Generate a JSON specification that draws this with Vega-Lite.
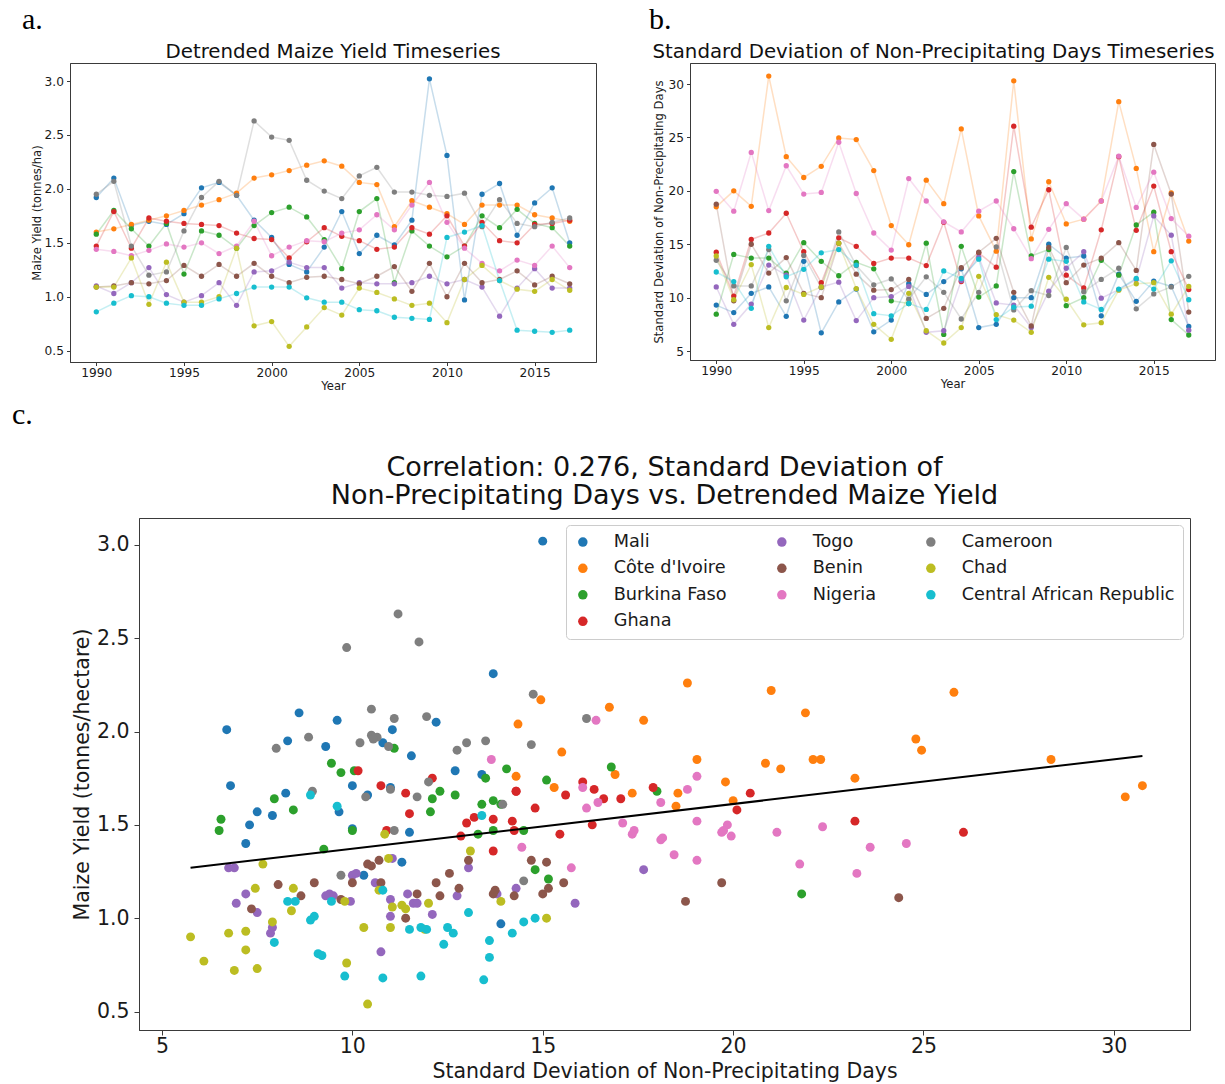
{
"$schema": "https://vega.github.io/schema/vega-lite/v6.json",
"padding": {"left": 12, "top": 4, "right": 5, "bottom": 0},
"background": "white",
"config": {
  "font": "DejaVu Sans",
  "view": {"stroke": "#3a3a3a", "strokeWidth": 1},
  "axis": {"grid": false, "domainColor": "#3a3a3a", "tickColor": "#3a3a3a", "labelColor": "#1a1a1a", "titleColor": "#1a1a1a", "titleFontWeight": "normal", "tickSize": 3.5, "labelPadding": 3},
  "title": {"fontWeight": "normal", "color": "#111"}
},
"datasets": {"d": [
{"country":"Mali","year":1990,"yield":1.92,"sd":9.3},
{"country":"Mali","year":1991,"yield":2.10,"sd":8.6},
{"country":"Mali","year":1992,"yield":1.66,"sd":10.4},
{"country":"Mali","year":1993,"yield":1.70,"sd":11.0},
{"country":"Mali","year":1994,"yield":1.67,"sd":8.25},
{"country":"Mali","year":1995,"yield":1.77,"sd":13.4},
{"country":"Mali","year":1996,"yield":2.01,"sd":6.7},
{"country":"Mali","year":1997,"yield":2.06,"sd":9.6},
{"country":"Mali","year":1998,"yield":1.94,"sd":10.8},
{"country":"Mali","year":1999,"yield":1.71,"sd":6.8},
{"country":"Mali","year":2000,"yield":1.55,"sd":7.9},
{"country":"Mali","year":2001,"yield":1.30,"sd":11.3},
{"country":"Mali","year":2002,"yield":1.23,"sd":10.3},
{"country":"Mali","year":2003,"yield":1.46,"sd":11.5},
{"country":"Mali","year":2004,"yield":1.79,"sd":12.7},
{"country":"Mali","year":2005,"yield":1.40,"sd":7.2},
{"country":"Mali","year":2006,"yield":1.57,"sd":7.5},
{"country":"Mali","year":2007,"yield":1.48,"sd":10.0},
{"country":"Mali","year":2008,"yield":1.71,"sd":10.0},
{"country":"Mali","year":2009,"yield":3.02,"sd":15.0},
{"country":"Mali","year":2010,"yield":2.31,"sd":13.7},
{"country":"Mali","year":2011,"yield":0.97,"sd":13.9},
{"country":"Mali","year":2012,"yield":1.95,"sd":8.3},
{"country":"Mali","year":2013,"yield":2.05,"sd":12.2},
{"country":"Mali","year":2014,"yield":1.57,"sd":9.65},
{"country":"Mali","year":2015,"yield":1.87,"sd":11.55},
{"country":"Mali","year":2016,"yield":2.01,"sd":11.05},
{"country":"Mali","year":2017,"yield":1.50,"sd":7.3},
{"country":"Côte d'Ivoire","year":1990,"yield":1.60,"sd":18.5},
{"country":"Côte d'Ivoire","year":1991,"yield":1.63,"sd":20.0},
{"country":"Côte d'Ivoire","year":1992,"yield":1.67,"sd":18.55},
{"country":"Côte d'Ivoire","year":1993,"yield":1.71,"sd":30.75},
{"country":"Côte d'Ivoire","year":1994,"yield":1.75,"sd":23.2},
{"country":"Côte d'Ivoire","year":1995,"yield":1.80,"sd":21.25},
{"country":"Côte d'Ivoire","year":1996,"yield":1.85,"sd":22.3},
{"country":"Côte d'Ivoire","year":1997,"yield":1.90,"sd":24.95},
{"country":"Côte d'Ivoire","year":1998,"yield":1.96,"sd":24.8},
{"country":"Côte d'Ivoire","year":1999,"yield":2.10,"sd":21.9},
{"country":"Côte d'Ivoire","year":2000,"yield":2.13,"sd":16.75},
{"country":"Côte d'Ivoire","year":2001,"yield":2.17,"sd":14.95},
{"country":"Côte d'Ivoire","year":2002,"yield":2.22,"sd":21.0},
{"country":"Côte d'Ivoire","year":2003,"yield":2.26,"sd":18.8},
{"country":"Côte d'Ivoire","year":2004,"yield":2.21,"sd":25.8},
{"country":"Côte d'Ivoire","year":2005,"yield":2.06,"sd":17.65},
{"country":"Côte d'Ivoire","year":2006,"yield":2.04,"sd":14.35},
{"country":"Côte d'Ivoire","year":2007,"yield":1.65,"sd":30.3},
{"country":"Côte d'Ivoire","year":2008,"yield":1.89,"sd":15.5},
{"country":"Côte d'Ivoire","year":2009,"yield":1.83,"sd":20.85},
{"country":"Côte d'Ivoire","year":2010,"yield":1.77,"sd":16.9},
{"country":"Côte d'Ivoire","year":2011,"yield":1.67,"sd":17.35},
{"country":"Côte d'Ivoire","year":2012,"yield":1.85,"sd":19.05},
{"country":"Côte d'Ivoire","year":2013,"yield":1.85,"sd":28.35},
{"country":"Côte d'Ivoire","year":2014,"yield":1.85,"sd":22.1},
{"country":"Côte d'Ivoire","year":2015,"yield":1.76,"sd":14.3},
{"country":"Côte d'Ivoire","year":2016,"yield":1.73,"sd":19.8},
{"country":"Côte d'Ivoire","year":2017,"yield":1.70,"sd":15.3},
{"country":"Burkina Faso","year":1990,"yield":1.58,"sd":8.45},
{"country":"Burkina Faso","year":1991,"yield":1.80,"sd":14.05},
{"country":"Burkina Faso","year":1992,"yield":1.63,"sd":13.7},
{"country":"Burkina Faso","year":1993,"yield":1.47,"sd":13.7},
{"country":"Burkina Faso","year":1994,"yield":1.68,"sd":12.3},
{"country":"Burkina Faso","year":1995,"yield":1.21,"sd":15.15},
{"country":"Burkina Faso","year":1996,"yield":1.61,"sd":13.4},
{"country":"Burkina Faso","year":1997,"yield":1.57,"sd":12.05},
{"country":"Burkina Faso","year":1998,"yield":1.45,"sd":13.3},
{"country":"Burkina Faso","year":1999,"yield":1.66,"sd":12.7},
{"country":"Burkina Faso","year":2000,"yield":1.78,"sd":9.7},
{"country":"Burkina Faso","year":2001,"yield":1.83,"sd":9.45},
{"country":"Burkina Faso","year":2002,"yield":1.74,"sd":15.1},
{"country":"Burkina Faso","year":2003,"yield":1.53,"sd":6.55},
{"country":"Burkina Faso","year":2004,"yield":1.26,"sd":14.8},
{"country":"Burkina Faso","year":2005,"yield":1.79,"sd":10.05},
{"country":"Burkina Faso","year":2006,"yield":1.91,"sd":11.1},
{"country":"Burkina Faso","year":2007,"yield":1.13,"sd":21.8},
{"country":"Burkina Faso","year":2008,"yield":1.61,"sd":13.9},
{"country":"Burkina Faso","year":2009,"yield":1.47,"sd":14.5},
{"country":"Burkina Faso","year":2010,"yield":1.37,"sd":9.25},
{"country":"Burkina Faso","year":2011,"yield":1.47,"sd":10.0},
{"country":"Burkina Faso","year":2012,"yield":1.75,"sd":13.5},
{"country":"Burkina Faso","year":2013,"yield":1.64,"sd":12.1},
{"country":"Burkina Faso","year":2014,"yield":1.81,"sd":16.8},
{"country":"Burkina Faso","year":2015,"yield":1.68,"sd":18.0},
{"country":"Burkina Faso","year":2016,"yield":1.64,"sd":7.95},
{"country":"Burkina Faso","year":2017,"yield":1.47,"sd":6.5},
{"country":"Ghana","year":1990,"yield":1.47,"sd":14.25},
{"country":"Ghana","year":1991,"yield":1.79,"sd":10.15},
{"country":"Ghana","year":1992,"yield":1.45,"sd":15.45},
{"country":"Ghana","year":1993,"yield":1.73,"sd":16.05},
{"country":"Ghana","year":1994,"yield":1.70,"sd":17.9},
{"country":"Ghana","year":1995,"yield":1.68,"sd":14.3},
{"country":"Ghana","year":1996,"yield":1.67,"sd":11.4},
{"country":"Ghana","year":1997,"yield":1.66,"sd":15.6},
{"country":"Ghana","year":1998,"yield":1.59,"sd":14.8},
{"country":"Ghana","year":1999,"yield":1.54,"sd":13.2},
{"country":"Ghana","year":2000,"yield":1.53,"sd":13.7},
{"country":"Ghana","year":2001,"yield":1.36,"sd":13.7},
{"country":"Ghana","year":2002,"yield":1.51,"sd":13.0},
{"country":"Ghana","year":2003,"yield":1.64,"sd":17.05},
{"country":"Ghana","year":2004,"yield":1.56,"sd":11.5},
{"country":"Ghana","year":2005,"yield":1.52,"sd":14.2},
{"country":"Ghana","year":2006,"yield":1.44,"sd":12.85},
{"country":"Ghana","year":2007,"yield":1.46,"sd":26.05},
{"country":"Ghana","year":2008,"yield":1.64,"sd":16.6},
{"country":"Ghana","year":2009,"yield":1.58,"sd":20.1},
{"country":"Ghana","year":2010,"yield":1.75,"sd":12.1},
{"country":"Ghana","year":2011,"yield":1.47,"sd":10.9},
{"country":"Ghana","year":2012,"yield":1.69,"sd":16.35},
{"country":"Ghana","year":2013,"yield":1.52,"sd":23.2},
{"country":"Ghana","year":2014,"yield":1.50,"sd":16.3},
{"country":"Ghana","year":2015,"yield":1.67,"sd":20.45},
{"country":"Ghana","year":2016,"yield":1.68,"sd":14.3},
{"country":"Ghana","year":2017,"yield":1.71,"sd":10.75},
{"country":"Togo","year":1990,"yield":1.10,"sd":11.0},
{"country":"Togo","year":1991,"yield":1.03,"sd":7.5},
{"country":"Togo","year":1992,"yield":1.13,"sd":9.4},
{"country":"Togo","year":1993,"yield":1.27,"sd":13.05},
{"country":"Togo","year":1994,"yield":1.02,"sd":12.1},
{"country":"Togo","year":1995,"yield":0.95,"sd":7.9},
{"country":"Togo","year":1996,"yield":1.01,"sd":11.0},
{"country":"Togo","year":1997,"yield":1.13,"sd":11.45},
{"country":"Togo","year":1998,"yield":0.92,"sd":7.85},
{"country":"Togo","year":1999,"yield":1.23,"sd":10.0},
{"country":"Togo","year":2000,"yield":1.24,"sd":10.1},
{"country":"Togo","year":2001,"yield":1.32,"sd":11.05},
{"country":"Togo","year":2002,"yield":1.27,"sd":6.75},
{"country":"Togo","year":2003,"yield":1.27,"sd":6.9},
{"country":"Togo","year":2004,"yield":1.08,"sd":11.6},
{"country":"Togo","year":2005,"yield":1.13,"sd":13.8},
{"country":"Togo","year":2006,"yield":1.12,"sd":9.5},
{"country":"Togo","year":2007,"yield":1.12,"sd":9.3},
{"country":"Togo","year":2008,"yield":1.13,"sd":7.2},
{"country":"Togo","year":2009,"yield":1.19,"sd":10.6},
{"country":"Togo","year":2010,"yield":1.12,"sd":12.75},
{"country":"Togo","year":2011,"yield":1.16,"sd":14.3},
{"country":"Togo","year":2012,"yield":1.09,"sd":9.95},
{"country":"Togo","year":2013,"yield":0.82,"sd":10.75},
{"country":"Togo","year":2014,"yield":1.08,"sd":11.7},
{"country":"Togo","year":2015,"yield":1.26,"sd":17.65},
{"country":"Togo","year":2016,"yield":1.08,"sd":15.85},
{"country":"Togo","year":2017,"yield":1.08,"sd":6.95},
{"country":"Benin","year":1990,"yield":1.09,"sd":18.75},
{"country":"Benin","year":1991,"yield":1.10,"sd":9.7},
{"country":"Benin","year":1992,"yield":1.13,"sd":15.0},
{"country":"Benin","year":1993,"yield":1.12,"sd":12.3},
{"country":"Benin","year":1994,"yield":1.15,"sd":13.75},
{"country":"Benin","year":1995,"yield":1.29,"sd":10.4},
{"country":"Benin","year":1996,"yield":1.19,"sd":10.0},
{"country":"Benin","year":1997,"yield":1.30,"sd":15.1},
{"country":"Benin","year":1998,"yield":1.19,"sd":12.2},
{"country":"Benin","year":1999,"yield":1.31,"sd":10.7},
{"country":"Benin","year":2000,"yield":1.19,"sd":10.75},
{"country":"Benin","year":2001,"yield":1.13,"sd":11.7},
{"country":"Benin","year":2002,"yield":1.18,"sd":8.05},
{"country":"Benin","year":2003,"yield":1.19,"sd":9.0},
{"country":"Benin","year":2004,"yield":1.16,"sd":12.8},
{"country":"Benin","year":2005,"yield":1.12,"sd":14.25},
{"country":"Benin","year":2006,"yield":1.19,"sd":15.55},
{"country":"Benin","year":2007,"yield":1.28,"sd":10.5},
{"country":"Benin","year":2008,"yield":1.05,"sd":7.35},
{"country":"Benin","year":2009,"yield":1.31,"sd":14.7},
{"country":"Benin","year":2010,"yield":1.00,"sd":11.4},
{"country":"Benin","year":2011,"yield":1.31,"sd":13.05},
{"country":"Benin","year":2012,"yield":1.13,"sd":13.7},
{"country":"Benin","year":2013,"yield":1.16,"sd":15.15},
{"country":"Benin","year":2014,"yield":1.24,"sd":12.55},
{"country":"Benin","year":2015,"yield":1.11,"sd":24.35},
{"country":"Benin","year":2016,"yield":1.19,"sd":19.7},
{"country":"Benin","year":2017,"yield":1.12,"sd":8.65},
{"country":"Nigeria","year":1990,"yield":1.44,"sd":19.95},
{"country":"Nigeria","year":1991,"yield":1.42,"sd":18.1},
{"country":"Nigeria","year":1992,"yield":1.38,"sd":23.6},
{"country":"Nigeria","year":1993,"yield":1.43,"sd":18.15},
{"country":"Nigeria","year":1994,"yield":1.49,"sd":22.35},
{"country":"Nigeria","year":1995,"yield":1.46,"sd":19.7},
{"country":"Nigeria","year":1996,"yield":1.50,"sd":19.85},
{"country":"Nigeria","year":1997,"yield":1.40,"sd":24.55},
{"country":"Nigeria","year":1998,"yield":1.47,"sd":19.75},
{"country":"Nigeria","year":1999,"yield":1.70,"sd":16.05},
{"country":"Nigeria","year":2000,"yield":1.38,"sd":14.45},
{"country":"Nigeria","year":2001,"yield":1.46,"sd":21.15},
{"country":"Nigeria","year":2002,"yield":1.52,"sd":19.05},
{"country":"Nigeria","year":2003,"yield":1.51,"sd":17.1},
{"country":"Nigeria","year":2004,"yield":1.59,"sd":16.15},
{"country":"Nigeria","year":2005,"yield":1.62,"sd":18.1},
{"country":"Nigeria","year":2006,"yield":1.76,"sd":19.05},
{"country":"Nigeria","year":2007,"yield":1.62,"sd":16.45},
{"country":"Nigeria","year":2008,"yield":1.85,"sd":13.65},
{"country":"Nigeria","year":2009,"yield":2.06,"sd":16.4},
{"country":"Nigeria","year":2010,"yield":1.69,"sd":18.8},
{"country":"Nigeria","year":2011,"yield":1.45,"sd":17.35},
{"country":"Nigeria","year":2012,"yield":1.31,"sd":19.05},
{"country":"Nigeria","year":2013,"yield":1.24,"sd":23.25},
{"country":"Nigeria","year":2014,"yield":1.34,"sd":18.45},
{"country":"Nigeria","year":2015,"yield":1.29,"sd":21.75},
{"country":"Nigeria","year":2016,"yield":1.47,"sd":17.4},
{"country":"Nigeria","year":2017,"yield":1.27,"sd":15.75},
{"country":"Cameroon","year":1990,"yield":1.95,"sd":13.5},
{"country":"Cameroon","year":1991,"yield":2.07,"sd":11.1},
{"country":"Cameroon","year":1992,"yield":1.47,"sd":11.1},
{"country":"Cameroon","year":1993,"yield":1.20,"sd":14.5},
{"country":"Cameroon","year":1994,"yield":1.23,"sd":9.7},
{"country":"Cameroon","year":1995,"yield":1.61,"sd":13.95},
{"country":"Cameroon","year":1996,"yield":1.92,"sd":10.95},
{"country":"Cameroon","year":1997,"yield":2.07,"sd":16.15},
{"country":"Cameroon","year":1998,"yield":1.94,"sd":13.0},
{"country":"Cameroon","year":1999,"yield":2.63,"sd":11.2},
{"country":"Cameroon","year":2000,"yield":2.48,"sd":11.75},
{"country":"Cameroon","year":2001,"yield":2.45,"sd":9.85},
{"country":"Cameroon","year":2002,"yield":2.08,"sd":11.95},
{"country":"Cameroon","year":2003,"yield":1.98,"sd":10.5},
{"country":"Cameroon","year":2004,"yield":1.91,"sd":8.0},
{"country":"Cameroon","year":2005,"yield":2.12,"sd":10.5},
{"country":"Cameroon","year":2006,"yield":2.20,"sd":14.75},
{"country":"Cameroon","year":2007,"yield":1.97,"sd":8.85},
{"country":"Cameroon","year":2008,"yield":1.97,"sd":10.65},
{"country":"Cameroon","year":2009,"yield":1.94,"sd":10.2},
{"country":"Cameroon","year":2010,"yield":1.93,"sd":14.7},
{"country":"Cameroon","year":2011,"yield":1.96,"sd":10.55},
{"country":"Cameroon","year":2012,"yield":1.65,"sd":11.7},
{"country":"Cameroon","year":2013,"yield":1.90,"sd":12.75},
{"country":"Cameroon","year":2014,"yield":1.68,"sd":8.95},
{"country":"Cameroon","year":2015,"yield":1.65,"sd":10.35},
{"country":"Cameroon","year":2016,"yield":1.69,"sd":11.0},
{"country":"Cameroon","year":2017,"yield":1.73,"sd":12.0},
{"country":"Chad","year":1990,"yield":1.09,"sd":13.9},
{"country":"Chad","year":1991,"yield":1.09,"sd":9.8},
{"country":"Chad","year":1992,"yield":1.36,"sd":13.1},
{"country":"Chad","year":1993,"yield":0.93,"sd":7.2},
{"country":"Chad","year":1994,"yield":1.32,"sd":10.95},
{"country":"Chad","year":1995,"yield":0.95,"sd":10.3},
{"country":"Chad","year":1996,"yield":0.95,"sd":11.0},
{"country":"Chad","year":1997,"yield":1.00,"sd":15.1},
{"country":"Chad","year":1998,"yield":1.45,"sd":10.85},
{"country":"Chad","year":1999,"yield":0.73,"sd":7.5},
{"country":"Chad","year":2000,"yield":0.77,"sd":6.1},
{"country":"Chad","year":2001,"yield":0.54,"sd":10.4},
{"country":"Chad","year":2002,"yield":0.72,"sd":6.9},
{"country":"Chad","year":2003,"yield":0.90,"sd":5.75},
{"country":"Chad","year":2004,"yield":0.83,"sd":7.2},
{"country":"Chad","year":2005,"yield":1.08,"sd":12.0},
{"country":"Chad","year":2006,"yield":1.04,"sd":8.4},
{"country":"Chad","year":2007,"yield":0.98,"sd":7.9},
{"country":"Chad","year":2008,"yield":0.92,"sd":6.75},
{"country":"Chad","year":2009,"yield":0.94,"sd":11.9},
{"country":"Chad","year":2010,"yield":0.76,"sd":9.85},
{"country":"Chad","year":2011,"yield":1.16,"sd":7.45},
{"country":"Chad","year":2012,"yield":1.29,"sd":7.65},
{"country":"Chad","year":2013,"yield":1.15,"sd":10.7},
{"country":"Chad","year":2014,"yield":1.07,"sd":11.3},
{"country":"Chad","year":2015,"yield":1.05,"sd":11.4},
{"country":"Chad","year":2016,"yield":1.16,"sd":8.45},
{"country":"Chad","year":2017,"yield":1.06,"sd":11.05},
{"country":"Central African Republic","year":1990,"yield":0.86,"sd":12.4},
{"country":"Central African Republic","year":1991,"yield":0.94,"sd":11.5},
{"country":"Central African Republic","year":1992,"yield":1.01,"sd":9.0},
{"country":"Central African Republic","year":1993,"yield":1.00,"sd":14.8},
{"country":"Central African Republic","year":1994,"yield":0.94,"sd":11.95},
{"country":"Central African Republic","year":1995,"yield":0.92,"sd":12.65},
{"country":"Central African Republic","year":1996,"yield":0.92,"sd":14.2},
{"country":"Central African Republic","year":1997,"yield":0.98,"sd":14.5},
{"country":"Central African Republic","year":1998,"yield":1.03,"sd":13.05},
{"country":"Central African Republic","year":1999,"yield":1.09,"sd":8.5},
{"country":"Central African Republic","year":2000,"yield":1.09,"sd":8.3},
{"country":"Central African Republic","year":2001,"yield":1.09,"sd":9.45},
{"country":"Central African Republic","year":2002,"yield":0.99,"sd":8.9},
{"country":"Central African Republic","year":2003,"yield":0.95,"sd":12.5},
{"country":"Central African Republic","year":2004,"yield":0.95,"sd":11.8},
{"country":"Central African Republic","year":2005,"yield":0.88,"sd":13.6},
{"country":"Central African Republic","year":2006,"yield":0.87,"sd":7.95},
{"country":"Central African Republic","year":2007,"yield":0.81,"sd":9.1},
{"country":"Central African Republic","year":2008,"yield":0.80,"sd":9.2},
{"country":"Central African Republic","year":2009,"yield":0.79,"sd":13.6},
{"country":"Central African Republic","year":2010,"yield":1.55,"sd":13.4},
{"country":"Central African Republic","year":2011,"yield":1.60,"sd":9.6},
{"country":"Central African Republic","year":2012,"yield":1.66,"sd":8.9},
{"country":"Central African Republic","year":2013,"yield":1.15,"sd":10.8},
{"country":"Central African Republic","year":2014,"yield":0.69,"sd":11.8},
{"country":"Central African Republic","year":2015,"yield":0.68,"sd":10.8},
{"country":"Central African Republic","year":2016,"yield":0.67,"sd":13.45},
{"country":"Central African Republic","year":2017,"yield":0.69,"sd":9.8}
]},
"resolve": {"scale": {"color": "independent"}, "legend": {"color": "independent"}},
"spacing": 6,
"vconcat": [
  {
    "spacing": 52,
    "hconcat": [
      {
        "title": {"text": "a.", "anchor": "start", "frame": "group", "dx": -48, "font": "Liberation Serif", "fontSize": 30, "fontWeight": "normal", "color": "#000", "offset": 7},
        "vconcat": [
          {
            "width": 526, "height": 299,
            "data": {"name": "d"},
            "title": {"text": "Detrended Maize Yield Timeseries", "fontSize": 19.8, "offset": 1},
            "encoding": {
              "x": {"field": "year", "type": "quantitative", "scale": {"domain": [1988.5, 2018.5], "nice": false, "zero": false},
                    "axis": {"values": [1990, 1995, 2000, 2005, 2010, 2015], "format": "d", "title": "Year", "labelFontSize": 12.2, "titleFontSize": 11.6, "labelPadding": 1, "titlePadding": 2}},
              "y": {"field": "yield", "type": "quantitative", "scale": {"domain": [0.395, 3.167], "nice": false, "zero": false},
                    "axis": {"values": [0.5, 1.0, 1.5, 2.0, 2.5, 3.0], "format": ".1f", "title": "Maize Yield (tonnes/ha)", "labelFontSize": 12.2, "titleFontSize": 11.6, "titlePadding": 2}},
              "color": {"field": "country", "type": "nominal",
                        "scale": {"domain": ["Mali", "Côte d'Ivoire", "Burkina Faso", "Ghana", "Togo", "Benin", "Nigeria", "Cameroon", "Chad", "Central African Republic"],
                                  "range": ["#1f77b4", "#ff7f0e", "#2ca02c", "#d62728", "#9467bd", "#8c564b", "#e377c2", "#7f7f7f", "#bcbd22", "#17becf"]},
                        "legend": null}
            },
            "layer": [
              {"mark": {"type": "line", "strokeWidth": 1.5, "opacity": 0.25}},
              {"mark": {"type": "circle", "size": 28, "opacity": 1}}
            ]
          }
        ]
      },
      {
        "title": {"text": "b.", "anchor": "start", "frame": "group", "dx": -41, "font": "Liberation Serif", "fontSize": 30, "fontWeight": "normal", "color": "#000", "offset": 7},
        "vconcat": [
          {
            "width": 525, "height": 297,
            "data": {"name": "d"},
            "title": {"text": "Standard Deviation of Non-Precipitating Days Timeseries", "fontSize": 19.8, "offset": 1, "dx": -19},
            "encoding": {
              "x": {"field": "year", "type": "quantitative", "scale": {"domain": [1988.5, 2018.5], "nice": false, "zero": false},
                    "axis": {"values": [1990, 1995, 2000, 2005, 2010, 2015], "format": "d", "title": "Year", "labelFontSize": 12.2, "titleFontSize": 11.6, "labelPadding": 1, "titlePadding": 2}},
              "y": {"field": "sd", "type": "quantitative", "scale": {"domain": [4.16, 31.97], "nice": false, "zero": false},
                    "axis": {"values": [5, 10, 15, 20, 25, 30], "format": "d", "title": "Standard Deviation of Non-Precipitating Days", "labelFontSize": 12.2, "titleFontSize": 11.6, "titlePadding": 3}},
              "color": {"field": "country", "type": "nominal",
                        "scale": {"domain": ["Mali", "Côte d'Ivoire", "Burkina Faso", "Ghana", "Togo", "Benin", "Nigeria", "Cameroon", "Chad", "Central African Republic"],
                                  "range": ["#1f77b4", "#ff7f0e", "#2ca02c", "#d62728", "#9467bd", "#8c564b", "#e377c2", "#7f7f7f", "#bcbd22", "#17becf"]},
                        "legend": null}
            },
            "layer": [
              {"mark": {"type": "line", "strokeWidth": 1.5, "opacity": 0.25}},
              {"mark": {"type": "circle", "size": 28, "opacity": 1}}
            ]
          }
        ]
      }
    ]
  },
  {
    "title": {"text": "c.", "anchor": "start", "frame": "group", "dx": -58, "font": "Liberation Serif", "fontSize": 30, "fontWeight": "normal", "color": "#000", "offset": 24},
    "resolve": {"scale": {"color": "independent"}, "legend": {"color": "independent"}},
    "spacing": 0,
    "hconcat": [
      {"width": 1, "height": 512, "data": {"values": []}, "mark": "point", "encoding": {}, "view": {"stroke": null}},
      {
        "width": 1051, "height": 512,
        "data": {"name": "d"},
        "title": {"text": ["Correlation: 0.276, Standard Deviation of", "Non-Precipitating Days vs. Detrended Maize Yield"], "fontSize": 27, "lineHeight": 28, "offset": 8},
        "encoding": {
          "x": {"field": "sd", "type": "quantitative", "scale": {"domain": [4.396, 32.0], "nice": false, "zero": false},
                "axis": {"values": [5, 10, 15, 20, 25, 30], "format": "d", "title": "Standard Deviation of Non-Precipitating Days", "labelFontSize": 20.5, "titleFontSize": 20.5, "tickSize": 5, "labelPadding": 1, "titlePadding": 5}},
          "y": {"field": "yield", "type": "quantitative", "scale": {"domain": [0.401, 3.144], "nice": false, "zero": false},
                "axis": {"values": [0.5, 1.0, 1.5, 2.0, 2.5, 3.0], "format": ".1f", "title": "Maize Yield (tonnes/hectare)", "labelFontSize": 20.5, "titleFontSize": 20.5, "tickSize": 5, "labelPadding": 5, "titlePadding": 4}}
        },
        "layer": [
          {
            "mark": {"type": "circle", "size": 80, "opacity": 1},
            "encoding": {
              "color": {"field": "country", "type": "nominal",
                        "scale": {"domain": ["Mali", "Côte d'Ivoire", "Burkina Faso", "Central African Republic", "Togo", "Benin", "Nigeria", "Ghana", "Cameroon", "Chad"],
                                  "range": ["#1f77b4", "#ff7f0e", "#2ca02c", "#17becf", "#9467bd", "#8c564b", "#e377c2", "#d62728", "#7f7f7f", "#bcbd22"]},
                        "legend": {"orient": "top-right", "offset": 7, "columns": 3, "title": null, "symbolType": "circle", "symbolSize": 90, "symbolStrokeWidth": 0, "symbolOpacity": 1,
                                   "labelFontSize": 17.7, "labelLimit": 300, "labelOffset": 22, "labelColor": "#1a1a1a", "columnPadding": 46, "rowPadding": 7.5, "padding": 8,
                                   "strokeColor": "#cccccc", "fillColor": "white", "cornerRadius": 4}}
            }
          },
          {
            "transform": [{"regression": "yield", "on": "sd"}],
            "mark": {"type": "line", "color": "black", "strokeWidth": 2}
          }
        ]
      }
    ]
  }
]
}
